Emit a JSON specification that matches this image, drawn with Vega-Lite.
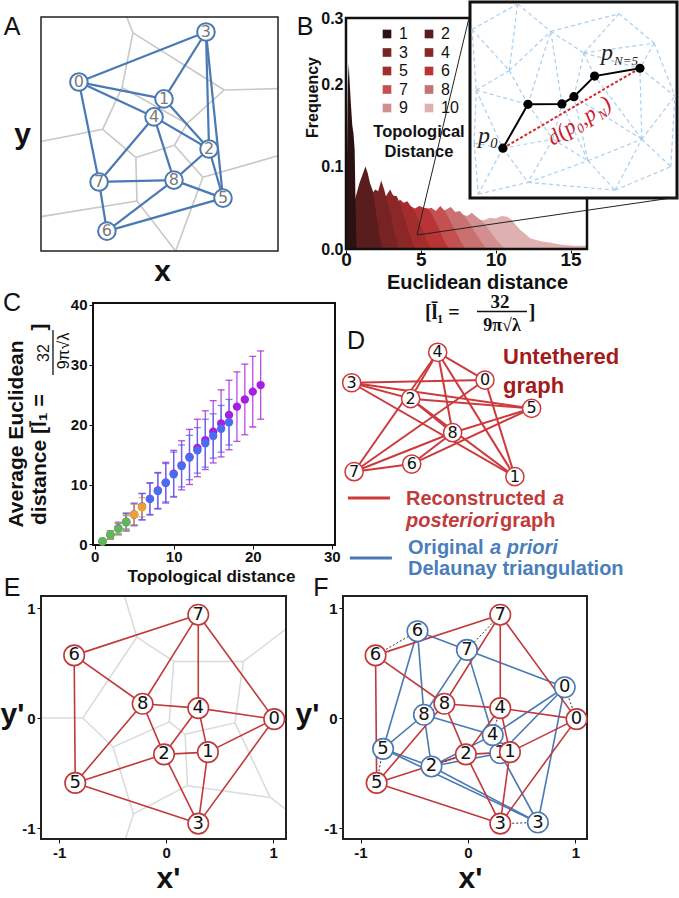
{
"$schema": "https://vega.github.io/schema/vega-lite/v6.json",
"width": 1, "height": 1, "autosize": "none", "padding": {"left": 0, "top": 0, "right": 678, "bottom": 897}, "background": "white",
"config": {
 "view": {"stroke": null},
 "axis": {"grid": false, "labelFlush": false, "labelOverlap": false, "labelBound": false, "labelFont": "Liberation Sans", "titleFont": "Liberation Sans", "labelFontWeight": "bold", "titleFontWeight": "bold", "labelColor": "#111", "titleColor": "#111", "tickColor": "#111", "domainColor": "#111", "labelFontSize": 15, "titleFontSize": 17, "zindex": 1},
 "legend": {"labelFont": "Liberation Sans", "titleFont": "Liberation Sans", "labelColor": "#111", "titleColor": "#111"},
 "text": {"font": "Liberation Sans", "color": "#111"}
},
"datasets": {
 "nodesA": [{"id":0,"x":0.160,"y":0.722},{"id":1,"x":0.519,"y":0.650},{"id":2,"x":0.709,"y":0.436},{"id":3,"x":0.696,"y":0.936},{"id":4,"x":0.477,"y":0.573},{"id":5,"x":0.768,"y":0.226},{"id":6,"x":0.278,"y":0.085},{"id":7,"x":0.245,"y":0.295},{"id":8,"x":0.561,"y":0.303}],
 "edgesA": [{"s":0,"t":3},{"s":3,"t":5},{"s":5,"t":6},{"s":6,"t":7},{"s":7,"t":0},{"s":0,"t":1},{"s":0,"t":4},{"s":3,"t":1},{"s":3,"t":2},{"s":1,"t":4},{"s":1,"t":2},{"s":4,"t":2},{"s":4,"t":7},{"s":4,"t":8},{"s":2,"t":8},{"s":2,"t":5},{"s":8,"t":5},{"s":8,"t":7},{"s":8,"t":6}],
 "vorA": [{"x1":0.388,"y1":0.932,"x2":0.342,"y2":0.699},{"x1":0.342,"y1":0.699,"x2":0.260,"y2":0.520},{"x1":0.388,"y1":0.932,"x2":0.773,"y2":0.688},{"x1":0.773,"y1":0.688,"x2":1.0,"y2":0.694},{"x1":0.342,"y1":0.699,"x2":0.616,"y2":0.544},{"x1":0.773,"y1":0.688,"x2":0.616,"y2":0.544},{"x1":0.616,"y1":0.544,"x2":0.563,"y2":0.452},{"x1":0.260,"y1":0.520,"x2":0.400,"y2":0.400},{"x1":0.563,"y1":0.452,"x2":0.400,"y2":0.400},{"x1":0.563,"y1":0.452,"x2":0.683,"y2":0.315},{"x1":0.683,"y1":0.315,"x2":1.0,"y2":0.407},{"x1":0.683,"y1":0.315,"x2":0.568,"y2":0.0},{"x1":0.400,"y1":0.400,"x2":0.405,"y2":0.214},{"x1":0.568,"y1":0.0,"x2":0.405,"y2":0.214},{"x1":0.388,"y1":0.932,"x2":0.362,"y2":1.0},{"x1":0.260,"y1":0.520,"x2":0.0,"y2":0.468},{"x1":0.405,"y1":0.214,"x2":0.0,"y2":0.147}],
 "nodesD": [{"id":0,"x":0.659,"y":0.733},{"id":1,"x":0.795,"y":0.089},{"id":2,"x":0.321,"y":0.609},{"id":3,"x":0.053,"y":0.715},{"id":4,"x":0.444,"y":0.918},{"id":5,"x":0.871,"y":0.544},{"id":6,"x":0.326,"y":0.173},{"id":7,"x":0.064,"y":0.122},{"id":8,"x":0.512,"y":0.382}],
 "nodesE": [{"id":0,"x":1.01,"y":-0.01},{"id":1,"x":0.39,"y":-0.31},{"id":2,"x":-0.02,"y":-0.33},{"id":3,"x":0.30,"y":-0.96},{"id":4,"x":0.30,"y":0.09},{"id":5,"x":-0.85,"y":-0.59},{"id":6,"x":-0.86,"y":0.57},{"id":7,"x":0.30,"y":0.94},{"id":8,"x":-0.22,"y":0.13}],
 "edgesE": [{"s":6,"t":7},{"s":7,"t":8},{"s":7,"t":4},{"s":7,"t":0},{"s":6,"t":8},{"s":6,"t":5},{"s":8,"t":4},{"s":8,"t":2},{"s":8,"t":5},{"s":4,"t":0},{"s":4,"t":2},{"s":4,"t":1},{"s":2,"t":1},{"s":2,"t":5},{"s":2,"t":3},{"s":1,"t":0},{"s":1,"t":3},{"s":0,"t":3},{"s":5,"t":3}],
 "vorE": [{"x1":-0.274,"y1":0.737,"x2":0.071,"y2":0.515},{"x1":-0.274,"y1":0.737,"x2":-0.78,"y2":0.0},{"x1":0.071,"y1":0.515,"x2":0.722,"y2":0.515},{"x1":0.071,"y1":0.515,"x2":0.029,"y2":-0.035},{"x1":0.722,"y1":0.515,"x2":0.643,"y2":-0.044},{"x1":-0.78,"y1":0.0,"x2":-0.497,"y2":-0.264},{"x1":0.029,"y1":-0.035,"x2":-0.497,"y2":-0.264},{"x1":0.029,"y1":-0.035,"x2":0.177,"y2":-0.148},{"x1":-0.497,"y1":-0.264,"x2":-0.306,"y2":-0.872},{"x1":0.177,"y1":-0.148,"x2":0.643,"y2":-0.044},{"x1":0.177,"y1":-0.148,"x2":0.199,"y2":-0.615},{"x1":0.643,"y1":-0.044,"x2":0.972,"y2":-0.722},{"x1":0.199,"y1":-0.615,"x2":0.972,"y2":-0.722},{"x1":0.199,"y1":-0.615,"x2":-0.306,"y2":-0.872},{"x1":-0.274,"y1":0.737,"x2":-0.39,"y2":1.11},{"x1":0.722,"y1":0.515,"x2":1.12,"y2":0.81},{"x1":0.972,"y1":-0.722,"x2":1.12,"y2":-0.83},{"x1":-0.306,"y1":-0.872,"x2":-0.38,"y2":-1.1},{"x1":-0.78,"y1":0.0,"x2":-1.17,"y2":0.0}],
 "nodesF": [{"id":0,"x":0.90,"y":0.28},{"id":1,"x":0.30,"y":-0.32},{"id":2,"x":-0.34,"y":-0.44},{"id":3,"x":0.65,"y":-0.95},{"id":4,"x":0.23,"y":-0.155},{"id":5,"x":-0.79,"y":-0.28},{"id":6,"x":-0.47,"y":0.79},{"id":7,"x":-0.01,"y":0.62},{"id":8,"x":-0.41,"y":0.03}],
 "hist": [
  {"series":10,"d":4,"f":0},{"series":10,"d":5,"f":0.012},{"series":10,"d":6,"f":0.02},{"series":10,"d":7,"f":0.028},{"series":10,"d":7.6,"f":0.031},{"series":10,"d":8.2,"f":0.034},{"series":10,"d":8.7,"f":0.036},{"series":10,"d":9.2,"f":0.035},{"series":10,"d":9.6,"f":0.038},{"series":10,"d":10.0,"f":0.037},{"series":10,"d":10.4,"f":0.04},{"series":10,"d":10.8,"f":0.039},{"series":10,"d":11.1,"f":0.035},{"series":10,"d":11.4,"f":0.028},{"series":10,"d":11.7,"f":0.022},{"series":10,"d":12.0,"f":0.018},{"series":10,"d":12.3,"f":0.013},{"series":10,"d":12.7,"f":0.011},{"series":10,"d":13.1,"f":0.009},{"series":10,"d":13.6,"f":0.008},{"series":10,"d":14.1,"f":0.006},{"series":10,"d":14.6,"f":0.005},{"series":10,"d":15.2,"f":0.004},{"series":10,"d":15.7,"f":0.004},{"series":10,"d":16.1,"f":0.004},
  {"series":9,"d":3.5,"f":0},{"series":9,"d":4.5,"f":0.015},{"series":9,"d":5.5,"f":0.027},{"series":9,"d":6.5,"f":0.036},{"series":9,"d":7.2,"f":0.04},{"series":9,"d":7.7,"f":0.042},{"series":9,"d":8.1,"f":0.04},{"series":9,"d":8.4,"f":0.044},{"series":9,"d":8.8,"f":0.038},{"series":9,"d":9.2,"f":0.032},{"series":9,"d":9.6,"f":0.022},{"series":9,"d":10.0,"f":0.012},{"series":9,"d":10.4,"f":0.004},{"series":9,"d":10.7,"f":0},
  {"series":8,"d":3,"f":0},{"series":8,"d":4,"f":0.02},{"series":8,"d":5,"f":0.034},{"series":8,"d":6,"f":0.043},{"series":8,"d":6.6,"f":0.047},{"series":8,"d":7.0,"f":0.051},{"series":8,"d":7.3,"f":0.045},{"series":8,"d":7.6,"f":0.046},{"series":8,"d":7.9,"f":0.04},{"series":8,"d":8.3,"f":0.03},{"series":8,"d":8.7,"f":0.018},{"series":8,"d":9.1,"f":0.007},{"series":8,"d":9.4,"f":0},
  {"series":7,"d":2.5,"f":0},{"series":7,"d":3.5,"f":0.025},{"series":7,"d":4.5,"f":0.04},{"series":7,"d":5.2,"f":0.047},{"series":7,"d":5.7,"f":0.05},{"series":7,"d":6.0,"f":0.046},{"series":7,"d":6.3,"f":0.052},{"series":7,"d":6.6,"f":0.046},{"series":7,"d":6.9,"f":0.036},{"series":7,"d":7.3,"f":0.022},{"series":7,"d":7.7,"f":0.008},{"series":7,"d":8.0,"f":0},
  {"series":6,"d":2,"f":0},{"series":6,"d":3,"f":0.03},{"series":6,"d":3.8,"f":0.045},{"series":6,"d":4.3,"f":0.052},{"series":6,"d":4.6,"f":0.049},{"series":6,"d":4.9,"f":0.052},{"series":6,"d":5.2,"f":0.05},{"series":6,"d":5.5,"f":0.049},{"series":6,"d":5.8,"f":0.04},{"series":6,"d":6.2,"f":0.025},{"series":6,"d":6.6,"f":0.008},{"series":6,"d":6.9,"f":0},
  {"series":5,"d":1.6,"f":0},{"series":5,"d":2.5,"f":0.032},{"series":5,"d":3.2,"f":0.05},{"series":5,"d":3.6,"f":0.06},{"series":5,"d":3.85,"f":0.056},{"series":5,"d":4.1,"f":0.058},{"series":5,"d":4.4,"f":0.05},{"series":5,"d":4.7,"f":0.042},{"series":5,"d":5.0,"f":0.028},{"series":5,"d":5.4,"f":0.01},{"series":5,"d":5.7,"f":0},
  {"series":4,"d":1.2,"f":0},{"series":4,"d":2.0,"f":0.042},{"series":4,"d":2.6,"f":0.062},{"series":4,"d":2.95,"f":0.072},{"series":4,"d":3.15,"f":0.065},{"series":4,"d":3.4,"f":0.064},{"series":4,"d":3.6,"f":0.055},{"series":4,"d":3.9,"f":0.038},{"series":4,"d":4.2,"f":0.02},{"series":4,"d":4.5,"f":0.005},{"series":4,"d":4.7,"f":0},
  {"series":3,"d":0.8,"f":0},{"series":3,"d":1.3,"f":0.045},{"series":3,"d":1.7,"f":0.066},{"series":3,"d":1.95,"f":0.072},{"series":3,"d":2.15,"f":0.07},{"series":3,"d":2.35,"f":0.083},{"series":3,"d":2.55,"f":0.072},{"series":3,"d":2.75,"f":0.058},{"series":3,"d":3.0,"f":0.04},{"series":3,"d":3.3,"f":0.015},{"series":3,"d":3.5,"f":0},
  {"series":2,"d":0.3,"f":0},{"series":2,"d":0.6,"f":0.06},{"series":2,"d":0.9,"f":0.08},{"series":2,"d":1.1,"f":0.09},{"series":2,"d":1.3,"f":0.1},{"series":2,"d":1.45,"f":0.092},{"series":2,"d":1.6,"f":0.08},{"series":2,"d":1.8,"f":0.07},{"series":2,"d":2.0,"f":0.045},{"series":2,"d":2.2,"f":0.02},{"series":2,"d":2.4,"f":0},
  {"series":1,"d":0,"f":0},{"series":1,"d":0.05,"f":0.08},{"series":1,"d":0.12,"f":0.2},{"series":1,"d":0.18,"f":0.225},{"series":1,"d":0.25,"f":0.2},{"series":1,"d":0.33,"f":0.175},{"series":1,"d":0.42,"f":0.15},{"series":1,"d":0.5,"f":0.14},{"series":1,"d":0.58,"f":0.12},{"series":1,"d":0.64,"f":0.05},{"series":1,"d":0.7,"f":0}
 ],
 "cdata": [
  {"lam":"2000","k":1,"m":0.5,"lo":0.25,"hi":0.75},{"lam":"2000","k":2,"m":1.6,"lo":0.9,"hi":2.3},{"lam":"2000","k":3,"m":2.7,"lo":1.7,"hi":3.7},{"lam":"2000","k":4,"m":3.8,"lo":2.4,"hi":5.2},{"lam":"2000","k":5,"m":5.0,"lo":3.2,"hi":6.8},{"lam":"2000","k":6,"m":6.3,"lo":4.1,"hi":8.5},{"lam":"2000","k":7,"m":7.6,"lo":4.9,"hi":10.3},{"lam":"2000","k":8,"m":9.0,"lo":6.0,"hi":12.0},{"lam":"2000","k":9,"m":10.3,"lo":6.9,"hi":13.7},{"lam":"2000","k":10,"m":11.8,"lo":7.9,"hi":15.7},{"lam":"2000","k":11,"m":13.2,"lo":9.1,"hi":17.3},{"lam":"2000","k":12,"m":14.6,"lo":10.0,"hi":19.2},{"lam":"2000","k":13,"m":16.1,"lo":11.3,"hi":20.9},{"lam":"2000","k":14,"m":17.4,"lo":12.5,"hi":22.3},{"lam":"2000","k":15,"m":18.8,"lo":13.6,"hi":24.0},{"lam":"2000","k":16,"m":20.2,"lo":14.6,"hi":25.8},{"lam":"2000","k":17,"m":21.6,"lo":15.8,"hi":27.4},{"lam":"2000","k":18,"m":23.0,"lo":17.2,"hi":28.8},{"lam":"2000","k":19,"m":24.2,"lo":18.3,"hi":30.1},{"lam":"2000","k":20,"m":25.5,"lo":19.6,"hi":31.4},{"lam":"2000","k":21,"m":26.6,"lo":20.9,"hi":32.3},
  {"lam":"1000","k":1,"m":0.5,"lo":0.2,"hi":0.8},{"lam":"1000","k":2,"m":1.6,"lo":0.9,"hi":2.3},{"lam":"1000","k":3,"m":2.6,"lo":1.6,"hi":3.6},{"lam":"1000","k":4,"m":3.7,"lo":2.2,"hi":5.2},{"lam":"1000","k":5,"m":5.0,"lo":3.1,"hi":6.9},{"lam":"1000","k":6,"m":6.3,"lo":4.1,"hi":8.5},{"lam":"1000","k":7,"m":7.6,"lo":5.0,"hi":10.2},{"lam":"1000","k":8,"m":8.9,"lo":5.9,"hi":11.9},{"lam":"1000","k":9,"m":10.3,"lo":7.1,"hi":13.5},{"lam":"1000","k":10,"m":11.7,"lo":8.0,"hi":15.4},{"lam":"1000","k":11,"m":13.1,"lo":9.6,"hi":16.6},{"lam":"1000","k":12,"m":14.5,"lo":10.8,"hi":18.2},{"lam":"1000","k":13,"m":15.7,"lo":11.9,"hi":19.5},{"lam":"1000","k":14,"m":16.9,"lo":12.9,"hi":20.9},{"lam":"1000","k":15,"m":18.1,"lo":14.4,"hi":21.8},{"lam":"1000","k":16,"m":19.3,"lo":15.4,"hi":23.2},{"lam":"1000","k":17,"m":20.4,"lo":16.6,"hi":24.2},
  {"lam":"200","k":1,"m":0.5,"lo":0.2,"hi":0.8},{"lam":"200","k":2,"m":1.6,"lo":0.9,"hi":2.3},{"lam":"200","k":3,"m":2.6,"lo":1.6,"hi":3.6},{"lam":"200","k":4,"m":3.7,"lo":2.4,"hi":5.0},{"lam":"200","k":5,"m":5.0,"lo":3.3,"hi":6.7},{"lam":"200","k":6,"m":6.2,"lo":4.6,"hi":7.8},
  {"lam":"100","k":1,"m":0.5,"lo":0.2,"hi":0.8},{"lam":"100","k":2,"m":1.6,"lo":1.0,"hi":2.2},{"lam":"100","k":3,"m":2.6,"lo":1.7,"hi":3.5},{"lam":"100","k":4,"m":3.7,"lo":2.6,"hi":4.8}
 ],
 "path": [{"i":0,"x":0.159,"y":0.254},{"i":1,"x":0.280,"y":0.478},{"i":2,"x":0.444,"y":0.480},{"i":3,"x":0.502,"y":0.517},{"i":4,"x":0.602,"y":0.622},{"i":5,"x":0.821,"y":0.662}],
 "mesh": [
  {"x1":0.01,"y1":0.86,"x2":0.23,"y2":0.99},{"x1":0.01,"y1":0.86,"x2":0.19,"y2":0.65},{"x1":0.01,"y1":0.86,"x2":0.03,"y2":0.55},{"x1":0.03,"y1":0.55,"x2":0.19,"y2":0.65},{"x1":0.19,"y1":0.65,"x2":0.23,"y2":0.99},{"x1":0.23,"y1":0.99,"x2":0.39,"y2":0.85},{"x1":0.19,"y1":0.65,"x2":0.39,"y2":0.85},{"x1":0.39,"y1":0.85,"x2":0.55,"y2":0.74},{"x1":0.39,"y1":0.85,"x2":0.72,"y2":0.94},{"x1":0.55,"y1":0.74,"x2":0.72,"y2":0.94},{"x1":0.72,"y1":0.94,"x2":0.89,"y2":0.79},{"x1":0.55,"y1":0.74,"x2":0.89,"y2":0.79},{"x1":0.55,"y1":0.74,"x2":0.602,"y2":0.622},{"x1":0.89,"y1":0.79,"x2":0.821,"y2":0.662},{"x1":0.55,"y1":0.74,"x2":0.821,"y2":0.662},{"x1":0.19,"y1":0.65,"x2":0.28,"y2":0.478},{"x1":0.03,"y1":0.55,"x2":0.28,"y2":0.478},{"x1":0.03,"y1":0.55,"x2":0.02,"y2":0.28},{"x1":0.03,"y1":0.55,"x2":0.159,"y2":0.254},{"x1":0.02,"y1":0.28,"x2":0.159,"y2":0.254},{"x1":0.28,"y1":0.478,"x2":0.39,"y2":0.85},{"x1":0.39,"y1":0.85,"x2":0.444,"y2":0.48},{"x1":0.502,"y1":0.517,"x2":0.55,"y2":0.74},{"x1":0.28,"y1":0.478,"x2":0.40,"y2":0.30},{"x1":0.159,"y1":0.254,"x2":0.40,"y2":0.30},{"x1":0.40,"y1":0.30,"x2":0.444,"y2":0.48},{"x1":0.40,"y1":0.30,"x2":0.57,"y2":0.19},{"x1":0.40,"y1":0.30,"x2":0.28,"y2":0.08},{"x1":0.159,"y1":0.254,"x2":0.28,"y2":0.08},{"x1":0.02,"y1":0.28,"x2":0.04,"y2":0.02},{"x1":0.04,"y1":0.02,"x2":0.28,"y2":0.08},{"x1":0.159,"y1":0.254,"x2":0.04,"y2":0.02},{"x1":0.28,"y1":0.08,"x2":0.57,"y2":0.19},{"x1":0.28,"y1":0.08,"x2":0.70,"y2":0.04},{"x1":0.57,"y1":0.19,"x2":0.70,"y2":0.04},{"x1":0.57,"y1":0.19,"x2":0.502,"y2":0.517},{"x1":0.57,"y1":0.19,"x2":0.444,"y2":0.48},{"x1":0.57,"y1":0.19,"x2":0.83,"y2":0.30},{"x1":0.70,"y1":0.04,"x2":0.83,"y2":0.30},{"x1":0.70,"y1":0.04,"x2":0.97,"y2":0.16},{"x1":0.83,"y1":0.30,"x2":0.97,"y2":0.16},{"x1":0.83,"y1":0.30,"x2":0.99,"y2":0.52},{"x1":0.97,"y1":0.16,"x2":0.99,"y2":0.52},{"x1":0.83,"y1":0.30,"x2":0.602,"y2":0.622},{"x1":0.83,"y1":0.30,"x2":0.502,"y2":0.517},{"x1":0.83,"y1":0.30,"x2":0.821,"y2":0.662},{"x1":0.821,"y1":0.662,"x2":0.99,"y2":0.52},{"x1":0.89,"y1":0.79,"x2":0.99,"y2":0.52}
 ]
},
"layer": [
 {"layer": [
  {"data":{"name":"vorA"},"mark":{"type":"rule","color":"#c8c8c8","strokeWidth":1.6},
   "encoding":{
    "x":{"field":"x1","type":"quantitative","scale":{"domain":[0,1],"range":[41,278],"nice":false,"zero":false},"axis":{"orient":"bottom","offset":250,"labels":false,"ticks":false,"domain":false,"title":"x","titleFontSize":30,"titleX":162,"titleY":29,"titleBaseline":"alphabetic","titleAlign":"center"}},
    "y":{"field":"y1","type":"quantitative","scale":{"domain":[0,1],"range":[251,17],"nice":false,"zero":false},"axis":{"orient":"right","offset":40,"labels":false,"ticks":false,"domain":false,"title":"y","titleFontSize":30,"titleAngle":0,"titleX":-19,"titleY":143,"titleBaseline":"alphabetic","titleAlign":"center"}},
    "x2":{"field":"x2"},"y2":{"field":"y2"}}},
  {"data":{"values":[{}]},"mark":{"type":"rect","fill":"white","fillOpacity":0,"stroke":"#222","strokeWidth":1.5},
   "encoding":{"x":{"datum":0,"type":"quantitative"},"x2":{"datum":1},"y":{"datum":0,"type":"quantitative"},"y2":{"datum":1}}},
  {"data":{"name":"edgesA"},"transform":[{"lookup":"s","from":{"data":{"name":"nodesA"},"key":"id","fields":["x","y"]},"as":["x1","y1"]},{"lookup":"t","from":{"data":{"name":"nodesA"},"key":"id","fields":["x","y"]},"as":["x2","y2"]}],
   "mark":{"type":"rule","color":"#4a79b4","strokeWidth":2.2},
   "encoding":{"x":{"field":"x1","type":"quantitative"},"y":{"field":"y1","type":"quantitative"},"x2":{"field":"x2"},"y2":{"field":"y2"}}},
  {"data":{"name":"nodesA"},"mark":{"type":"point","shape":"circle","filled":true,"fill":"white","stroke":"#4a79b4","strokeWidth":2,"size":310,"opacity":1},
   "encoding":{"x":{"field":"x","type":"quantitative"},"y":{"field":"y","type":"quantitative"}}},
  {"data":{"name":"nodesA"},"mark":{"type":"text","font":"DejaVu Sans","fontSize":16,"color":"#7a7a7a"},
   "encoding":{"x":{"field":"x","type":"quantitative"},"y":{"field":"y","type":"quantitative"},"text":{"field":"id","type":"nominal"}}},
  {"data":{"values":[{}]},"mark":{"type":"text","text":"A","fontSize":25},
   "encoding":{"x":{"datum":-0.122,"type":"quantitative"},"y":{"datum":0.957,"type":"quantitative"}}}
 ]},
 {"layer": [
  {"data":{"name":"hist"},"mark":{"type":"area","opacity":1},
   "encoding":{
    "x":{"field":"d","type":"quantitative","scale":{"domain":[0,16.1],"range":[346,587],"nice":false,"zero":false},"axis":{"orient":"bottom","offset":249,"values":[0,5,10,15],"tickCount":20,"labelOverlap":false,"labelBound":false,"tickSize":3,"labelPadding":-3,"labelFontSize":19,"domain":false,"title":"Euclidean distance","titleFontSize":20,"titleX":477,"titleY":32,"titleBaseline":"middle","titleAlign":"center"}},
    "y":{"field":"f","type":"quantitative","stack":null,"scale":{"domain":[0,0.28],"range":[249,18],"nice":false,"zero":false},"axis":{"orient":"right","offset":345,"values":[0,0.1,0.2,0.28],"tickCount":20,"labelOverlap":false,"labelBound":false,"labelExpr":"datum.value > 0.25 ? '0.3' : format(datum.value, '.1f')","ticks":false,"tickSize":0,"labelPadding":-3,"labelAlign":"right","labelFontSize":16,"domain":false,"title":"Frequency","titleFontSize":16,"titleAngle":270,"titleX":-34,"titleY":97,"titleBaseline":"middle","titleAlign":"center"}},
    "color":{"field":"series","type":"ordinal","scale":{"domain":[1,3,5,7,9,2,4,6,8,10],"range":["#2b1111","#782323","#a32d2d","#c45050","#d38f8f","#5a1d1d","#8c2727","#b93434","#c97070","#dfb0b0"]},
     "legend":{"orient":"none","legendX":373,"legendY":26,"columns":2,"columnPadding":13,"rowPadding":2.5,"symbolType":"square","symbolSize":75,"symbolStrokeWidth":0,"labelFontSize":16,"labelOffset":4,"title":["Topological","Distance"],"titleOrient":"bottom","titleFontSize":16.5,"titleFontWeight":"bold","titleLineHeight":20,"titleAnchor":"middle","titleAlign":"center","titlePadding":8}}
   }},
  {"data":{"values":[{}]},"mark":{"type":"rect","fill":"white","fillOpacity":0,"stroke":"#111","strokeWidth":2.5},
   "encoding":{"x":{"datum":0,"type":"quantitative"},"x2":{"datum":16.1},"y":{"datum":0,"type":"quantitative"},"y2":{"datum":0.28}}},
  {"data":{"values":[{}]},"mark":{"type":"text","text":"[l̄₁ =","font":"Liberation Serif","fontWeight":"bold","fontSize":20,"align":"left"},
   "encoding":{"x":{"datum":5.28,"type":"quantitative"},"y":{"datum":-0.0776,"type":"quantitative"}}},
  {"data":{"values":[{}]},"mark":{"type":"text","text":"32","font":"Liberation Serif","fontWeight":"bold","fontSize":19},
   "encoding":{"x":{"datum":10.29,"type":"quantitative"},"y":{"datum":-0.0642,"type":"quantitative"}}},
  {"data":{"values":[{}]},"mark":{"type":"rule","color":"#111","strokeWidth":1.5},
   "encoding":{"x":{"datum":8.75,"type":"quantitative"},"x2":{"datum":12.09},"y":{"datum":-0.0757,"type":"quantitative"}}},
  {"data":{"values":[{}]},"mark":{"type":"text","text":"9π√λ","font":"Liberation Serif","fontWeight":"bold","fontSize":18},
   "encoding":{"x":{"datum":10.42,"type":"quantitative"},"y":{"datum":-0.0933,"type":"quantitative"}}},
  {"data":{"values":[{}]},"mark":{"type":"text","text":"]","font":"Liberation Serif","fontWeight":"bold","fontSize":20},
   "encoding":{"x":{"datum":12.43,"type":"quantitative"},"y":{"datum":-0.0776,"type":"quantitative"}}},
  {"data":{"values":[{}]},"mark":{"type":"text","text":"B","fontSize":25},
   "encoding":{"x":{"datum":-2.74,"type":"quantitative"},"y":{"datum":0.269,"type":"quantitative"}}}
 ]},
 {"layer": [
  {"data":{"values":[{}]},"mark":{"type":"rect","fill":"white","stroke":"#111","strokeWidth":3},
   "encoding":{"x":{"datum":0,"type":"quantitative","axis":null},"x2":{"datum":1},"y":{"datum":0,"type":"quantitative","axis":null},"y2":{"datum":1}}},
  {"data":{"name":"mesh"},"mark":{"type":"rule","color":"#a9cff0","strokeWidth":1.2,"strokeDash":[4,3]},
   "encoding":{"x":{"field":"x1","type":"quantitative","scale":{"domain":[0,1],"range":[470,677],"nice":false,"zero":false},"axis":null},"y":{"field":"y1","type":"quantitative","scale":{"domain":[0,1],"range":[198,2],"nice":false,"zero":false},"axis":null},"x2":{"field":"x2"},"y2":{"field":"y2"}}},
  {"data":{"values":[{}]},"mark":{"type":"rule","color":"#222","strokeWidth":1},
   "encoding":{"x":{"datum":-0.256,"type":"quantitative","axis":null},"y":{"datum":-0.189,"type":"quantitative","axis":null},"x2":{"datum":-0.005},"y2":{"datum":0.918}}},
  {"data":{"values":[{}]},"mark":{"type":"rule","color":"#222","strokeWidth":1},
   "encoding":{"x":{"datum":-0.256,"type":"quantitative","axis":null},"y":{"datum":-0.189,"type":"quantitative","axis":null},"x2":{"datum":1.005},"y2":{"datum":0.005}}},
  {"data":{"name":"path"},"transform":[{"filter":"datum.i == 0 || datum.i == 5"}],"mark":{"type":"line","color":"#d42a2a","strokeWidth":2,"strokeDash":[3,2]},
   "encoding":{"x":{"field":"x","type":"quantitative","axis":null},"y":{"field":"y","type":"quantitative","axis":null},"order":{"field":"i"}}},
  {"data":{"name":"path"},"mark":{"type":"line","color":"#000","strokeWidth":2},
   "encoding":{"x":{"field":"x","type":"quantitative","axis":null},"y":{"field":"y","type":"quantitative","axis":null},"order":{"field":"i"}}},
  {"data":{"name":"path"},"mark":{"type":"circle","color":"#000","size":85,"opacity":1},
   "encoding":{"x":{"field":"x","type":"quantitative","axis":null},"y":{"field":"y","type":"quantitative","axis":null}}},
  {"data":{"values":[{}]},"mark":{"type":"text","text":"p₀","font":"Liberation Serif","fontStyle":"italic","fontSize":24,"align":"left","baseline":"alphabetic","color":"#222"},
   "encoding":{"x":{"datum":0.039,"type":"quantitative","axis":null},"y":{"datum":0.281,"type":"quantitative","axis":null}}},
  {"data":{"values":[{}]},"mark":{"type":"text","text":"p","font":"Liberation Serif","fontStyle":"italic","fontSize":24,"align":"left","baseline":"alphabetic","color":"#222"},
   "encoding":{"x":{"datum":0.633,"type":"quantitative","axis":null},"y":{"datum":0.704,"type":"quantitative","axis":null}}},
  {"data":{"values":[{}]},"mark":{"type":"text","text":"N=5","font":"Liberation Serif","fontStyle":"italic","fontSize":13,"align":"left","baseline":"alphabetic","dx":13,"dy":5,"color":"#222"},
   "encoding":{"x":{"datum":0.633,"type":"quantitative","axis":null},"y":{"datum":0.704,"type":"quantitative","axis":null}}},
  {"data":{"values":[{}]},"mark":{"type":"text","text":"d(p₀,p","font":"Liberation Serif","fontStyle":"italic","fontSize":22,"align":"left","baseline":"alphabetic","angle":-33,"color":"#c8202e"},
   "encoding":{"x":{"datum":0.401,"type":"quantitative","axis":null},"y":{"datum":0.265,"type":"quantitative","axis":null}}},
  {"data":{"values":[{}]},"mark":{"type":"text","text":"N","font":"Liberation Serif","fontStyle":"italic","fontSize":13,"align":"left","baseline":"alphabetic","angle":-33,"dx":55,"dy":5,"color":"#c8202e"},
   "encoding":{"x":{"datum":0.401,"type":"quantitative","axis":null},"y":{"datum":0.265,"type":"quantitative","axis":null}}},
  {"data":{"values":[{}]},"mark":{"type":"text","text":")","font":"Liberation Serif","fontStyle":"italic","fontSize":22,"align":"left","baseline":"alphabetic","angle":-33,"dx":64,"color":"#c8202e"},
   "encoding":{"x":{"datum":0.401,"type":"quantitative","axis":null},"y":{"datum":0.265,"type":"quantitative","axis":null}}}
 ]},
 {"layer": [
  {"data":{"values":[{}]},"mark":{"type":"rect","fill":"white","fillOpacity":0,"stroke":"#111","strokeWidth":2},
   "encoding":{
    "x":{"datum":-0.2,"type":"quantitative","scale":{"domain":[-0.2,30.4],"range":[93,335],"nice":false,"zero":false},"axis":{"orient":"bottom","offset":544,"values":[0,10,20,30],"tickCount":20,"labelOverlap":false,"labelBound":false,"tickSize":4,"labelPadding":0,"labelFontSize":15,"domain":false,"title":"Topological distance","titleFontSize":17,"titleX":211,"titleY":31,"titleBaseline":"middle","titleAlign":"center"}},
    "x2":{"datum":30.4},
    "y":{"datum":-0.1,"type":"quantitative","scale":{"domain":[-0.1,40.3],"range":[545,303],"nice":false,"zero":false},"axis":{"orient":"right","offset":92,"values":[0,10,20,30,40],"tickCount":20,"labelOverlap":false,"labelBound":false,"tickSize":-4,"labelPadding":-2,"labelAlign":"right","labelFontSize":15,"domain":false,"title":null}},
    "y2":{"datum":40.3}}},
  {"data":{"name":"cdata"},"mark":{"type":"errorbar","ticks":true,"size":7,"thickness":1.3,"opacity":0.8},
   "encoding":{"x":{"field":"k","type":"quantitative"},"y":{"field":"lo","type":"quantitative"},"y2":{"field":"hi"},"color":{"field":"lam","type":"nominal","legend":null}}},
  {"data":{"name":"cdata"},"mark":{"type":"circle","size":70,"opacity":1},
   "encoding":{
    "x":{"field":"k","type":"quantitative"},
    "y":{"field":"m","type":"quantitative"},
    "color":{"field":"lam","type":"nominal","scale":{"domain":["2000","1000","200","100"],"range":["#a71fe0","#4a6cf0","#f0a030","#5cb85c"]},
     "legend":{"orient":"none","legendX":146,"legendY":309,"title":"λπ [points/unit disk]","titleFontSize":15,"titleFontWeight":"bold","titlePadding":3,"labelFontSize":19,"labelOffset":5,"symbolType":"circle","symbolSize":60,"rowPadding":1,"symbolStrokeWidth":0}}
   }},
  {"data":{"values":[{}]},"mark":{"type":"text","text":"Average Euclidean","fontWeight":"bold","fontSize":21,"angle":270},
   "encoding":{"x":{"datum":-9.81,"type":"quantitative"},"y":{"datum":18.43,"type":"quantitative"}}},
  {"data":{"values":[{}]},"mark":{"type":"text","text":"distance [l̄₁ =","fontWeight":"bold","fontSize":21,"angle":270,"align":"left"},
   "encoding":{"x":{"datum":-6.9,"type":"quantitative"},"y":{"datum":3.24,"type":"quantitative"}}},
  {"data":{"values":[{}]},"mark":{"type":"text","text":"32","fontSize":16,"angle":270},
   "encoding":{"x":{"datum":-6.4,"type":"quantitative"},"y":{"datum":31.95,"type":"quantitative"}}},
  {"data":{"values":[{}]},"mark":{"type":"rule","color":"#111","strokeWidth":1.3},
   "encoding":{"x":{"datum":-5.26,"type":"quantitative"},"y":{"datum":28.28,"type":"quantitative"},"y2":{"datum":35.79}}},
  {"data":{"values":[{}]},"mark":{"type":"text","text":"9π√λ","fontSize":16,"angle":270},
   "encoding":{"x":{"datum":-3.87,"type":"quantitative"},"y":{"datum":32.29,"type":"quantitative"}}},
  {"data":{"values":[{}]},"mark":{"type":"text","text":"]","fontSize":21,"fontWeight":"bold","angle":270},
   "encoding":{"x":{"datum":-6.9,"type":"quantitative"},"y":{"datum":36.29,"type":"quantitative"}}},
  {"data":{"values":[{}]},"mark":{"type":"text","text":"C","fontSize":25},
   "encoding":{"x":{"datum":-10.44,"type":"quantitative"},"y":{"datum":40.3,"type":"quantitative"}}}
 ]},
 {"layer": [
  {"data":{"name":"edgesE"},"transform":[{"lookup":"s","from":{"data":{"name":"nodesD"},"key":"id","fields":["x","y"]},"as":["x1","y1"]},{"lookup":"t","from":{"data":{"name":"nodesD"},"key":"id","fields":["x","y"]},"as":["x2","y2"]}],
   "mark":{"type":"rule","color":"#cd3a3c","strokeWidth":2},
   "encoding":{"x":{"field":"x1","type":"quantitative","scale":{"domain":[0,1],"range":[340,560],"nice":false,"zero":false},"axis":null},"y":{"field":"y1","type":"quantitative","scale":{"domain":[0,1],"range":[490,340],"nice":false,"zero":false},"axis":null},"x2":{"field":"x2"},"y2":{"field":"y2"}}},
  {"data":{"name":"nodesD"},"mark":{"type":"point","shape":"circle","filled":true,"fill":"white","stroke":"#cd3a3c","strokeWidth":1.5,"size":330,"opacity":1},
   "encoding":{"x":{"field":"x","type":"quantitative","axis":null},"y":{"field":"y","type":"quantitative","axis":null}}},
  {"data":{"name":"nodesD"},"mark":{"type":"text","font":"DejaVu Sans","fontSize":16,"color":"#111"},
   "encoding":{"x":{"field":"x","type":"quantitative","axis":null},"y":{"field":"y","type":"quantitative","axis":null},"text":{"field":"id","type":"nominal"}}},
  {"data":{"values":[{}]},"mark":{"type":"text","text":"Untethered","fontWeight":"bold","fontSize":22,"align":"left","color":"#a31b1b"},
   "encoding":{"x":{"datum":0.741,"type":"quantitative","axis":null},"y":{"datum":0.887,"type":"quantitative","axis":null}}},
  {"data":{"values":[{}]},"mark":{"type":"text","text":"graph","fontWeight":"bold","fontSize":22,"align":"left","color":"#a31b1b"},
   "encoding":{"x":{"datum":0.741,"type":"quantitative","axis":null},"y":{"datum":0.693,"type":"quantitative","axis":null}}},
  {"data":{"values":[{}]},"mark":{"type":"rule","color":"#cd3a3c","strokeWidth":3},
   "encoding":{"x":{"datum":0.036,"type":"quantitative","axis":null},"x2":{"datum":0.227},"y":{"datum":-0.053,"type":"quantitative","axis":null}}},
  {"data":{"values":[{}]},"mark":{"type":"rule","color":"#4a79b4","strokeWidth":3},
   "encoding":{"x":{"datum":0.045,"type":"quantitative","axis":null},"x2":{"datum":0.236},"y":{"datum":-0.453,"type":"quantitative","axis":null}}},
  {"data":{"values":[{}]},"mark":{"type":"text","text":"Reconstructed","fontWeight":"bold","fontSize":20,"align":"left","color":"#c23b3b"},
   "encoding":{"x":{"datum":0.3,"type":"quantitative","axis":null},"y":{"datum":-0.06,"type":"quantitative","axis":null}}},
  {"data":{"values":[{}]},"mark":{"type":"text","text":"a","fontWeight":"bold","fontStyle":"italic","fontSize":20,"align":"left","color":"#c23b3b"},
   "encoding":{"x":{"datum":0.968,"type":"quantitative","axis":null},"y":{"datum":-0.06,"type":"quantitative","axis":null}}},
  {"data":{"values":[{}]},"mark":{"type":"text","text":"posteriori","fontWeight":"bold","fontStyle":"italic","fontSize":20,"align":"left","color":"#c23b3b"},
   "encoding":{"x":{"datum":0.3,"type":"quantitative","axis":null},"y":{"datum":-0.2067,"type":"quantitative","axis":null}}},
  {"data":{"values":[{}]},"mark":{"type":"text","text":"graph","fontWeight":"bold","fontSize":20,"align":"left","color":"#c23b3b"},
   "encoding":{"x":{"datum":0.727,"type":"quantitative","axis":null},"y":{"datum":-0.2067,"type":"quantitative","axis":null}}},
  {"data":{"values":[{}]},"mark":{"type":"text","text":"Original","fontWeight":"bold","fontSize":20,"align":"left","color":"#4a7ebb"},
   "encoding":{"x":{"datum":0.309,"type":"quantitative","axis":null},"y":{"datum":-0.3867,"type":"quantitative","axis":null}}},
  {"data":{"values":[{}]},"mark":{"type":"text","text":"a priori","fontWeight":"bold","fontStyle":"italic","fontSize":20,"align":"left","color":"#4a7ebb"},
   "encoding":{"x":{"datum":0.682,"type":"quantitative","axis":null},"y":{"datum":-0.3867,"type":"quantitative","axis":null}}},
  {"data":{"values":[{}]},"mark":{"type":"text","text":"Delaunay triangulation","fontWeight":"bold","fontSize":20,"align":"left","color":"#4a7ebb"},
   "encoding":{"x":{"datum":0.309,"type":"quantitative","axis":null},"y":{"datum":-0.5267,"type":"quantitative","axis":null}}},
  {"data":{"values":[{}]},"mark":{"type":"text","text":"D","fontSize":25},
   "encoding":{"x":{"datum":0.073,"type":"quantitative","axis":null},"y":{"datum":0.993,"type":"quantitative","axis":null}}}
 ]},
 {"layer": [
  {"data":{"name":"vorE"},"mark":{"type":"rule","color":"#dadada","strokeWidth":1.5},
   "encoding":{
    "x":{"field":"x1","type":"quantitative","scale":{"domain":[-1.17,1.12],"range":[41,286],"nice":false,"zero":false},"axis":{"orient":"bottom","offset":838,"values":[-1,0,1],"tickCount":20,"labelOverlap":false,"labelBound":false,"labelExpr":"datum.value < 0 ? '-1' : format(datum.value, 'd')","tickSize":4,"labelPadding":2,"labelFontSize":15,"domain":false,"title":"x'","titleFontSize":30,"titleX":168,"titleY":48,"titleBaseline":"alphabetic","titleAlign":"center"}},
    "y":{"field":"y1","type":"quantitative","scale":{"domain":[-1.1,1.11],"range":[839,596],"nice":false,"zero":false},"axis":{"orient":"right","offset":40,"values":[-1,0,1],"tickCount":20,"labelOverlap":false,"labelBound":false,"labelExpr":"datum.value < 0 ? '-1' : format(datum.value, 'd')","tickSize":-4,"labelPadding":-2,"labelAlign":"right","labelFontSize":15,"domain":false,"title":"y'","titleFontSize":30,"titleAngle":0,"titleX":-29,"titleY":723,"titleBaseline":"alphabetic","titleAlign":"center"}},
    "x2":{"field":"x2"},"y2":{"field":"y2"}}},
  {"data":{"values":[{}]},"mark":{"type":"rect","fill":"white","fillOpacity":0,"stroke":"#222","strokeWidth":2},
   "encoding":{"x":{"datum":-1.17,"type":"quantitative"},"x2":{"datum":1.12},"y":{"datum":-1.1,"type":"quantitative"},"y2":{"datum":1.11}}},
  {"data":{"name":"edgesE"},"transform":[{"lookup":"s","from":{"data":{"name":"nodesE"},"key":"id","fields":["x","y"]},"as":["x1","y1"]},{"lookup":"t","from":{"data":{"name":"nodesE"},"key":"id","fields":["x","y"]},"as":["x2","y2"]}],
   "mark":{"type":"rule","color":"#c0393b","strokeWidth":1.6},
   "encoding":{"x":{"field":"x1","type":"quantitative"},"y":{"field":"y1","type":"quantitative"},"x2":{"field":"x2"},"y2":{"field":"y2"}}},
  {"data":{"name":"nodesE"},"mark":{"type":"point","shape":"circle","filled":true,"fill":"white","stroke":"#c0393b","strokeWidth":1.6,"size":420,"opacity":1},
   "encoding":{"x":{"field":"x","type":"quantitative"},"y":{"field":"y","type":"quantitative"}}},
  {"data":{"name":"nodesE"},"mark":{"type":"text","font":"DejaVu Sans","fontSize":18,"color":"#111"},
   "encoding":{"x":{"field":"x","type":"quantitative"},"y":{"field":"y","type":"quantitative"},"text":{"field":"id","type":"nominal"}}},
  {"data":{"values":[{}]},"mark":{"type":"text","text":"E","fontSize":25},
   "encoding":{"x":{"datum":-1.441,"type":"quantitative"},"y":{"datum":1.182,"type":"quantitative"}}}
 ]},
 {"layer": [
  {"data":{"values":[{}]},"mark":{"type":"rect","fill":"white","fillOpacity":0,"stroke":"#222","strokeWidth":2},
   "encoding":{
    "x":{"datum":-1.163,"type":"quantitative","scale":{"domain":[-1.163,1.107],"range":[343,587],"nice":false,"zero":false},"axis":{"orient":"bottom","offset":838,"values":[-1,0,1],"tickCount":20,"labelOverlap":false,"labelBound":false,"labelExpr":"datum.value < 0 ? '-1' : format(datum.value, 'd')","tickSize":4,"labelPadding":2,"labelFontSize":15,"domain":false,"title":"x'","titleFontSize":30,"titleX":470,"titleY":48,"titleBaseline":"alphabetic","titleAlign":"center"}},
    "x2":{"datum":1.107},
    "y":{"datum":-1.1,"type":"quantitative","scale":{"domain":[-1.1,1.11],"range":[839,596],"nice":false,"zero":false},"axis":{"orient":"right","offset":342,"values":[-1,0,1],"tickCount":20,"labelOverlap":false,"labelBound":false,"labelExpr":"datum.value < 0 ? '-1' : format(datum.value, 'd')","tickSize":-4,"labelPadding":-2,"labelAlign":"right","labelFontSize":15,"domain":false,"title":"y'","titleFontSize":30,"titleAngle":0,"titleX":-36,"titleY":723,"titleBaseline":"alphabetic","titleAlign":"center"}},
    "y2":{"datum":1.11}}},
  {"data":{"name":"edgesA"},"transform":[{"lookup":"s","from":{"data":{"name":"nodesF"},"key":"id","fields":["x","y"]},"as":["x1","y1"]},{"lookup":"t","from":{"data":{"name":"nodesF"},"key":"id","fields":["x","y"]},"as":["x2","y2"]}],
   "mark":{"type":"rule","color":"#4a79b4","strokeWidth":1.6},
   "encoding":{"x":{"field":"x1","type":"quantitative"},"y":{"field":"y1","type":"quantitative"},"x2":{"field":"x2"},"y2":{"field":"y2"}}},
  {"data":{"name":"edgesE"},"transform":[{"lookup":"s","from":{"data":{"name":"nodesE"},"key":"id","fields":["x","y"]},"as":["x1","y1"]},{"lookup":"t","from":{"data":{"name":"nodesE"},"key":"id","fields":["x","y"]},"as":["x2","y2"]}],
   "mark":{"type":"rule","color":"#c0393b","strokeWidth":1.6},
   "encoding":{"x":{"field":"x1","type":"quantitative"},"y":{"field":"y1","type":"quantitative"},"x2":{"field":"x2"},"y2":{"field":"y2"}}},
  {"data":{"name":"nodesE"},"transform":[{"lookup":"id","from":{"data":{"name":"nodesF"},"key":"id","fields":["x","y"]},"as":["bx","by"]}],
   "mark":{"type":"rule","color":"#333","strokeWidth":1,"strokeDash":[2,2]},
   "encoding":{"x":{"field":"x","type":"quantitative"},"y":{"field":"y","type":"quantitative"},"x2":{"field":"bx"},"y2":{"field":"by"}}},
  {"data":{"name":"nodesF"},"mark":{"type":"point","shape":"circle","filled":true,"fill":"white","stroke":"#4a79b4","strokeWidth":1.6,"size":420,"opacity":1},
   "encoding":{"x":{"field":"x","type":"quantitative"},"y":{"field":"y","type":"quantitative"}}},
  {"data":{"name":"nodesF"},"mark":{"type":"text","font":"DejaVu Sans","fontSize":18,"color":"#111"},
   "encoding":{"x":{"field":"x","type":"quantitative"},"y":{"field":"y","type":"quantitative"},"text":{"field":"id","type":"nominal"}}},
  {"data":{"name":"nodesE"},"mark":{"type":"point","shape":"circle","filled":true,"fill":"white","stroke":"#c0393b","strokeWidth":1.6,"size":420,"opacity":1},
   "encoding":{"x":{"field":"x","type":"quantitative"},"y":{"field":"y","type":"quantitative"}}},
  {"data":{"name":"nodesE"},"mark":{"type":"text","font":"DejaVu Sans","fontSize":18,"color":"#111"},
   "encoding":{"x":{"field":"x","type":"quantitative"},"y":{"field":"y","type":"quantitative"},"text":{"field":"id","type":"nominal"}}},
  {"data":{"values":[{}]},"mark":{"type":"text","text":"F","fontSize":25},
   "encoding":{"x":{"datum":-1.368,"type":"quantitative"},"y":{"datum":1.182,"type":"quantitative"}}}
 ]}
],
"resolve": {"scale": {"x": "independent", "y": "independent", "color": "independent"}, "axis": {"x": "independent", "y": "independent"}, "legend": {"color": "independent"}}
}
